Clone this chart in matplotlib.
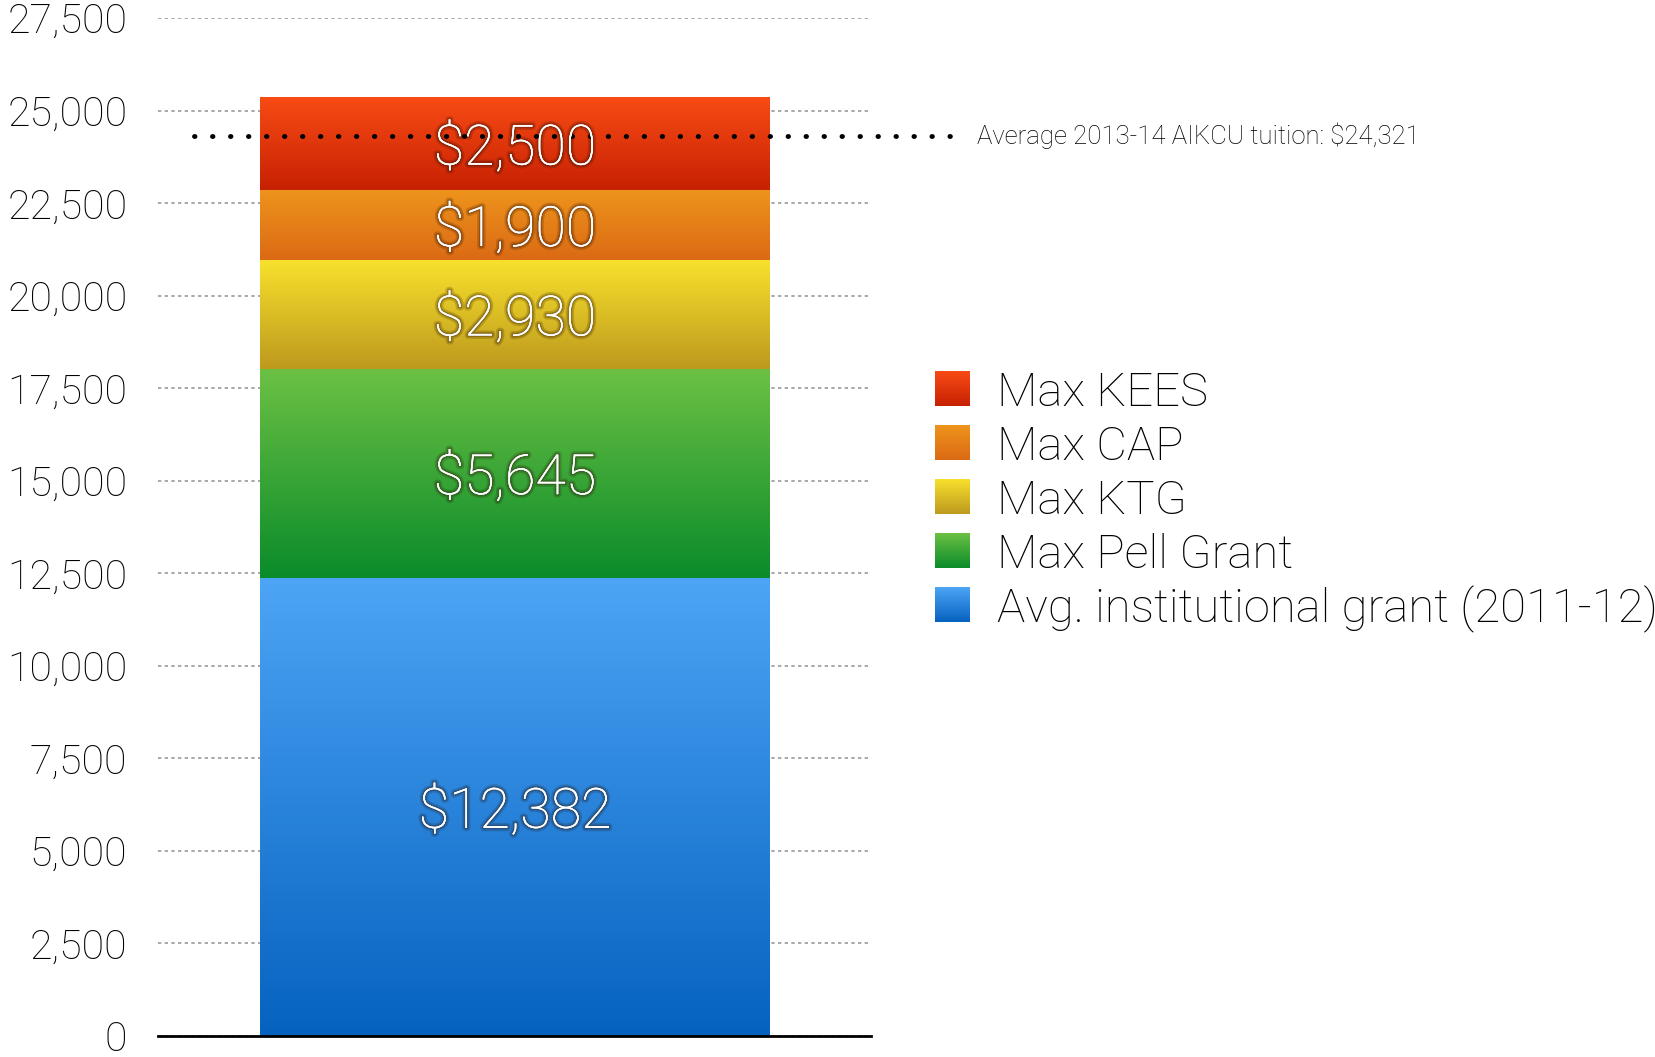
import numpy as np
import matplotlib
matplotlib.use("Agg")
import matplotlib.pyplot as plt
import matplotlib.patheffects as pe

plt.rcParams['font.family'] = ['Roboto', 'DejaVu Sans']
plt.rcParams['font.weight'] = 'light'
plt.rcParams['text.color'] = 'black'
plt.rcParams['ytick.color'] = 'black'

# data
series = ["Avg. institutional grant (2011-12)", "Max Pell Grant", "Max KTG", "Max CAP", "Max KEES"]
values = [12382, 5645, 2930, 1900, 2500]
labels = ["$12,382", "$5,645", "$2,930", "$1,900", "$2,500"]
grad_top = ["#4ea5f6", "#6cc144", "#f8e12c", "#ee941c", "#f84b15"]
grad_bot = ["#0562bf", "#0a8b2a", "#bd991e", "#db6a14", "#c72103"]
tuition = 24321
tuition_label = "Average 2013-14 AIKCU tuition: $24,321"
yticks = np.arange(0, 27501, 2500)

fig = plt.figure(figsize=(16.56, 10.57), dpi=100)
ax = fig.add_axes([0.0954, 0.0199, 0.4306, 0.9631])
ax.set_xlim(0, 1)
ax.set_ylim(0, 27500)

def gradient(c1, c2, n=256):
    a = np.array(matplotlib.colors.to_rgb(c1))
    b = np.array(matplotlib.colors.to_rgb(c2))
    t = np.linspace(0, 1, n)[:, None]
    return (a * (1 - t) + b * t)[:, None, :]

x0, w = 0.143, 0.715
bottom = 0
handles = []
for name, v, lab, ct, cb in zip(series, values, labels, grad_top, grad_bot):
    bar = ax.bar(x0, v, width=w, bottom=bottom, align='edge', color='none', zorder=2)[0]
    im = ax.imshow(gradient(ct, cb), extent=[x0, x0 + w, bottom, bottom + v],
                   aspect='auto', zorder=2, interpolation='bilinear')
    im.set_clip_path(bar)
    t = ax.text(x0 + w / 2, bottom + v / 2, lab, ha='center', va='center_baseline',
                fontsize=40, color='white', zorder=4)
    t.set_path_effects([pe.withStroke(linewidth=5, foreground=(0.15, 0.05, 0, 0.18)),
                        pe.withStroke(linewidth=2.5, foreground=(0.15, 0.05, 0, 0.25)),
                        pe.Normal()])
    handles.append((name, ct, cb))
    bottom += v

# grid
ax.set_yticks(yticks)
ax.set_yticklabels([f"{v:,}" for v in yticks], fontsize=29.5)
ax.yaxis.grid(True, linestyle=(0, (2, 2)), color='#999999', linewidth=1.2, zorder=0)
ax.set_axisbelow(True)
ax.tick_params(axis='y', length=0, pad=22)
ax.tick_params(axis='x', bottom=False, labelbottom=False)
for s in ['top', 'right', 'left']:
    ax.spines[s].set_visible(False)
ax.spines['bottom'].set_linewidth(2)
ax.spines['bottom'].set_zorder(5)

# tuition line
ax.plot([0.05, 1.125], [tuition, tuition], linestyle=(0, (0.1, 3.6)), dash_capstyle='round',
        color='black', linewidth=3.5, clip_on=False, zorder=3)
ax.text(1.149, tuition, tuition_label, fontsize=18.5, va='center', ha='left')

# legend (drawn manually with gradients)
lx, top0, dy = 935 / 1656, 1 - 371 / 1057, 53.9 / 1057
pw, ph = 35 / 1656, 35 / 1057
for i, (name, ct, cb) in enumerate(handles[::-1]):
    y = top0 - i * dy - ph
    lax = fig.add_axes([lx, y, pw, ph])
    lax.imshow(gradient(ct, cb), aspect='auto', extent=[0, 1, 0, 1])
    lax.axis('off')
    fig.text(997 / 1656, y + ph / 2, name, fontsize=34, va='center_baseline', ha='left')

fig.savefig("out.png", dpi=100)
